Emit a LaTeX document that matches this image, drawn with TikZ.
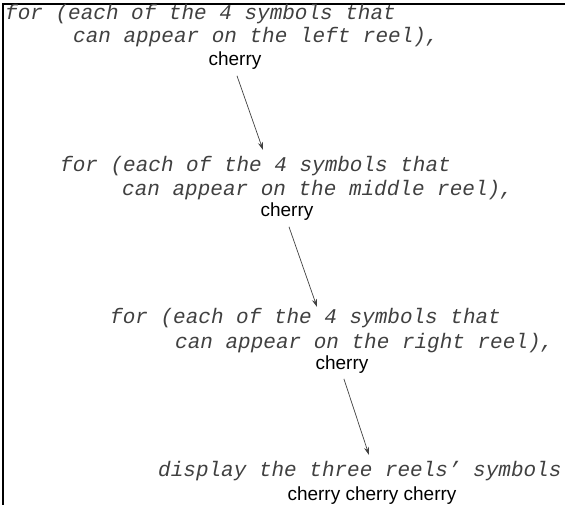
\documentclass[tikz,border=0pt]{standalone}
\usepackage{fontspec}
\usetikzlibrary{arrows.meta}
\newfontfamily\codefont{Liberation Mono}
\newfontfamily\symfont{Liberation Sans}

\begin{document}
\begin{tikzpicture}[x=1pt, y=-1pt,
  code/.style={anchor=base west, inner sep=0pt, font=\codefont\itshape\fontsize{21}{24}\selectfont, text=black!75},
  sym/.style={anchor=base, inner sep=0pt, font=\symfont\fontsize{19}{22}\selectfont},
  arr/.style={-{Stealth[length=8pt, width=5pt]}, black!75, line width=0.7pt, shorten <=6pt}]
\useasboundingbox (0,0) rectangle (565,505);
\draw[line width=1.2pt] (3,505) -- (3,4) -- (565,4);
% left reel
\node[code] (leftfor) at (5,20) {for (each of the 4 symbols that};
\node[code] (leftcan) at (73,43) {can appear on the left reel),};
\node[sym] (leftsym) at (235,66) {cherry};
% middle reel
\node[code] (midfor) at (60,172) {for (each of the 4 symbols that};
\node[code] (midcan) at (122,196) {can appear on the middle reel),};
\node[sym] (midsym) at (287,217) {cherry};
% right reel
\node[code] (rightfor) at (110,323) {for (each of the 4 symbols that};
\node[code] (rightcan) at (175,348) {can appear on the right reel),};
\node[sym] (rightsym) at (342,369) {cherry};
% display
\node[code] (disp) at (158,476) {display the three reels’ symbols};
\node[sym] (dispsym) at (372,500) {cherry cherry cherry};
\coordinate (midtip) at (263,150);
\coordinate (righttip) at (317,307);
\coordinate (disptip) at (369,455);
\draw[arr] (leftsym.south) -- (midtip);
\draw[arr] (midsym.south) -- (righttip);
\draw[arr] (rightsym.south) -- (disptip);
\end{tikzpicture}
\end{document}
